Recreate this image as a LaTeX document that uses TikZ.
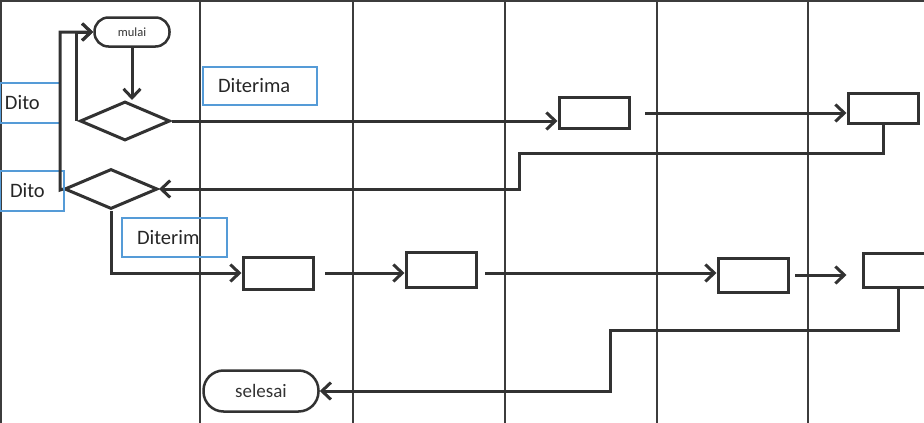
\documentclass[tikz,border=0pt]{standalone}
\usepackage{fontspec}
\setmainfont{Carlito}
\usetikzlibrary{shapes.geometric,arrows.meta}

\definecolor{linegray}{RGB}{50,50,50}
\definecolor{lanegray}{RGB}{60,60,60}
\definecolor{labelblue}{RGB}{85,155,215}

\tikzset{
    flow/.style={draw=linegray, line width=3pt, arrows={Straight Barb[length=9pt,width=17pt]-}},
    lane/.style={draw=lanegray, line width=1.8pt},
    process/.style={shape=rectangle, draw=linegray, line width=3pt, minimum width=70pt, inner sep=0pt},
    decision/.style={shape=diamond, draw=linegray, line width=3pt, inner sep=0pt},
    terminal/.style={shape=rectangle, draw=linegray, line width=2.5pt, inner sep=0pt},
    note/.style={shape=rectangle, draw=labelblue, line width=1.4pt, align=left,
        font=\fontsize{20.5}{24}\selectfont, text=black!85, inner ysep=0pt}
}

\begin{document}
\begin{tikzpicture}[x=1pt, y=-1pt]
    \useasboundingbox (0,0) rectangle (924,423);
    \clip (0,0) rectangle (924,423);

    % swimlanes
    \draw[lane] (0,1) -- (924,1);
    \foreach \lx in {1,200,353,505,657,808}
        \draw[lane] (\lx,0) -- (\lx,423);

    \begin{scope}
        \node[terminal, rounded corners=14pt, minimum width=75pt, minimum height=29pt,
            font=\fontsize{12.5}{14}\selectfont, text=black!80] (mulai) at (132,32) {mulai};
        \node[decision, minimum width=90pt, minimum height=39pt] (cekA) at (125,121) {};
        \node[decision, minimum width=93pt, minimum height=40pt] (cekB) at (111,189) {};

        \node[process, minimum height=31pt] (p1) at (594,113) {};
        \node[process, minimum height=30pt] (p2) at (883,108) {};
        \node[process, minimum height=32pt] (p3) at (278,273) {};
        \node[process, minimum height=35pt] (p4) at (441,270) {};
        \node[process, minimum height=34pt] (p5) at (753,275) {};
        \node[process, minimum height=34pt] (p6) at (898,270) {};

        \node[terminal, rounded corners=20pt, minimum width=115pt, minimum height=41pt,
            font=\fontsize{19}{22}\selectfont, text=black!80] (selesai) at (261,391) {selesai};

        \node[note, text width=50pt, inner xsep=5pt, minimum height=40pt] (dito1) at (30,103) {Dito};
        \node[note, text width=44pt, inner xsep=10pt, minimum height=40pt] (dito2) at (32,191) {Dito};
        \node[note, text width=84pt, inner xsep=15pt, minimum height=38pt] (terima1) at (260,86) {Diterima};
        \node[note, text width=75pt, inner xsep=15pt, minimum height=39pt] (terima2) at (174.5,237.5) {Diterim};

        \coordinate (k0) at (60,190);
        \coordinate (k1) at (519,153);
        \coordinate (k2) at (610,330);
    \end{scope}

    \begin{scope}
    \draw[flow] (mulai.south |- cekA.north) -- (mulai.south);
    \draw[flow] (mulai.west) -| ([xshift=-2pt]cekA.west);
    \draw[flow] (mulai.west) -| (k0) -- (cekB.west);
    \draw[flow] (p1.west |- cekA.east) -- (cekA.east);
    \draw[flow] (p2.west |- p1.east) -- ([xshift=14pt]p1.east);
    \draw[flow] (cekB.east) -| (k1) -| (p2.south);
    \draw[flow] (p3.west) -| (cekB.south);
    \draw[flow] (p4.west |- p3.east) -- ([xshift=10pt]p3.east);
    \draw[flow] (p5.west |- p3.east) -- ([xshift=7pt]p4.east |- p3.east);
    \draw[flow] ([xshift=-15pt]p6.west |- p5.east) -- ([xshift=5pt]p5.east);
    \draw[flow] (selesai.east) -| (k2) -| (p6.south);
    \end{scope}

\end{tikzpicture}
\end{document}
